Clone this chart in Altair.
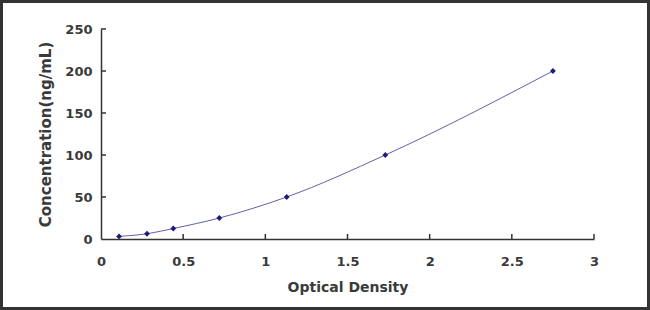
import altair as alt
import pandas as pd

od = [0.11, 0.28, 0.44, 0.72, 1.13, 1.73, 2.75]
conc = [3.12, 6.25, 12.5, 25, 50, 100, 200]
x_ticks = [0, 0.5, 1, 1.5, 2, 2.5, 3]
y_ticks = [0, 50, 100, 150, 200, 250]

df = pd.DataFrame({"od": od, "conc": conc})
W, H = 493, 210
FONT = "DejaVu Sans"
TXT = "#3a3a3a"

xs = alt.Scale(domain=[0, 3], nice=False)
ys = alt.Scale(domain=[0, 250], nice=False)

xaxis = alt.Axis(values=x_ticks, ticks=False, grid=False, title="Optical Density", format="~g",
                 labelFont=FONT, labelFontSize=13, labelFontWeight="bold", labelColor=TXT,
                 titleFont=FONT, titleFontSize=14, titleFontWeight="bold", titleColor=TXT,
                 labelPadding=16, titlePadding=12, domainColor="#333333", domainWidth=1.5,
                 labelFlush=False)
yaxis = alt.Axis(values=y_ticks, ticks=False, grid=False, title="Concentration(ng/mL)",
                 labelFont=FONT, labelFontSize=13, labelFontWeight="bold", labelColor=TXT,
                 titleFont=FONT, titleFontSize=15, titleFontWeight="bold", titleColor=TXT,
                 labelPadding=9, titlePadding=11, domainColor="#333333", domainWidth=1.5,
                 labelFlush=False)

line = alt.Chart(df).mark_line(color="#6262aa", strokeWidth=1, interpolate="monotone").encode(
    x=alt.X("od:Q", scale=xs, axis=xaxis),
    y=alt.Y("conc:Q", scale=ys, axis=yaxis),
)
pts = alt.Chart(df).mark_point(shape="diamond", filled=True, color="#1c1c7a", size=34, opacity=1).encode(
    x=alt.X("od:Q", scale=xs),
    y=alt.Y("conc:Q", scale=ys),
)

xt = alt.Chart(pd.DataFrame({"t": x_ticks[1:]})).mark_rule(color="#333333", strokeWidth=1.5).encode(
    x=alt.X("t:Q", scale=xs), y=alt.value(H), y2=alt.value(H - 5))
yt = alt.Chart(pd.DataFrame({"t": y_ticks[1:]})).mark_rule(color="#333333", strokeWidth=1.5).encode(
    y=alt.Y("t:Q", scale=ys), x=alt.value(0), x2=alt.value(5))

frame = alt.Chart(pd.DataFrame({"a": [0]})).mark_rect(
    fill=None, stroke="#333333", strokeWidth=3, clip=False).encode(
    x=alt.value(-99.5), x2=alt.value(547.5), y=alt.value(-27.5), y2=alt.value(279.5))

chart = alt.layer(line, xt, yt, pts, frame).properties(
    width=W, height=H,
    autosize=alt.AutoSizeParams(type="none"),
    padding={"left": 101, "top": 29, "right": 56, "bottom": 71},
    background="white",
).configure_view(stroke=None)

chart.save("out.html", embed_options={"renderer": "svg", "actions": False})
